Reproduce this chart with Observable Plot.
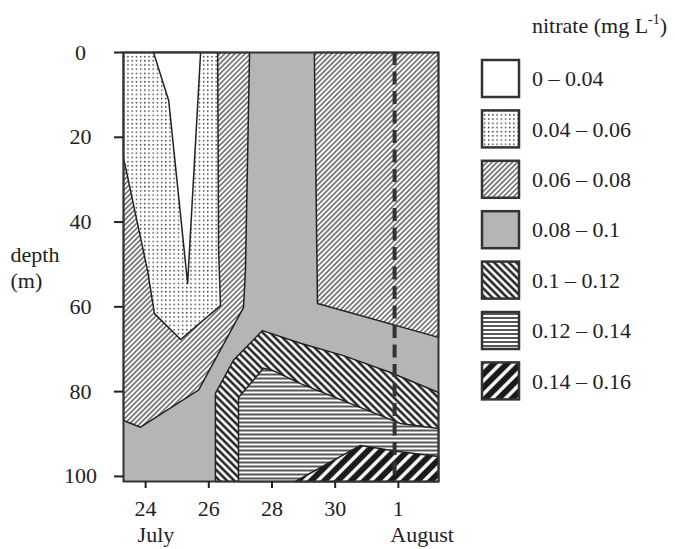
<!DOCTYPE html>
<html>
<head>
<meta charset="utf-8">
<script src="https://cdn.jsdelivr.net/npm/d3@7"></script>
<script src="https://cdn.jsdelivr.net/npm/@observablehq/plot@0.6"></script>
<style>
  html, body { margin: 0; padding: 0; background: #fff; }
  #wrap { position: relative; width: 675px; height: 549px; font-family: "Liberation Serif", "Times New Roman", serif; }
  #legend { position: absolute; left: 0; top: 0; }
  svg text { font-family: "Liberation Serif", "Times New Roman", serif; }
</style>
</head>
<body>
<svg width="0" height="0" style="position:absolute">
  <defs>
    <pattern id="p-stip" patternUnits="userSpaceOnUse" width="4.2" height="4.2">
      <rect width="4.2" height="4.2" fill="#fff"/>
      <circle cx="1.5" cy="1.5" r="0.8" fill="#333"/>
    </pattern>
    <pattern id="p-hatch" patternUnits="userSpaceOnUse" width="3.6" height="3.6" patternTransform="rotate(45)">
      <rect width="3.6" height="3.6" fill="#fff"/>
      <line x1="1.8" y1="-1" x2="1.8" y2="5" stroke="#555" stroke-width="1.4"/>
    </pattern>
    <pattern id="p-gray" patternUnits="userSpaceOnUse" width="4" height="4">
      <rect width="4" height="4" fill="#b5b5b5"/>
    </pattern>
    <pattern id="p-back" patternUnits="userSpaceOnUse" width="5.2" height="5.2" patternTransform="rotate(-45)">
      <rect width="5.2" height="5.2" fill="#fff"/>
      <line x1="2.6" y1="-1" x2="2.6" y2="7" stroke="#1e1e1e" stroke-width="2.5"/>
    </pattern>
    <pattern id="p-horiz" patternUnits="userSpaceOnUse" width="4" height="4">
      <rect width="4" height="4" fill="#fff"/>
      <line x1="-1" y1="2" x2="5" y2="2" stroke="#1e1e1e" stroke-width="1.5"/>
    </pattern>
    <pattern id="p-thick" patternUnits="userSpaceOnUse" width="9.4" height="9.4" patternTransform="rotate(45)">
      <rect width="9.4" height="9.4" fill="#fff"/>
      <line x1="4.7" y1="-1" x2="4.7" y2="11" stroke="#1a1a1a" stroke-width="6"/>
    </pattern>
  </defs>
</svg>
<div id="wrap">
  <div id="chart"></div>
  <svg id="legend" width="675" height="549"></svg>
</div>
<script>
// ---- data ----
// legend classes (nitrate, mg L-1)
const classLabels = ["0 \u2013 0.04", "0.04 \u2013 0.06", "0.06 \u2013 0.08", "0.08 \u2013 0.1", "0.1 \u2013 0.12", "0.12 \u2013 0.14", "0.14 \u2013 0.16"];
const classFills = ["#fff", "url(#p-stip)", "url(#p-hatch)", "url(#p-gray)", "url(#p-back)", "url(#p-horiz)", "url(#p-thick)"];

// axis ticks: day number (32 = 1 August), depth (m)
const dayTicks = [24, 26, 28, 30, 32];
const dayTickLabels = ["24", "26", "28", "30", "1"];
const monthLabels = [{day: 24, text: "July"}, {day: 32, text: "August"}];
const depthTicks = [0, 20, 40, 60, 80, 100];
const dayDomain = [23.3, 33.27];
const depthDomain = [0, 101.2];
const sampleDay = 31.88; // dashed marker line

// contour polygons: [day, depth]
const poly0608left = [[23.3,0],[27.29,0],[27.16,51.4],[27.10,60.1],[25.68,79.6],[23.84,88.4],[23.3,86.8]];
const poly0406 = [[23.3,0],[26.28,0],[26.31,46.7],[26.37,59.7],[25.11,67.7],[24.28,61.6],[24.06,51.4],[23.3,24.8]];
const poly0004 = [[24.25,0],[25.74,0],[25.33,54.5],[24.73,11.3]];
const poly0608right = [[29.34,0],[33.27,0],[33.27,67.2],[29.44,59.2]];
const poly1012 = [[26.21,101.2],[26.21,80.4],[26.78,72.6],[27.70,65.6],[28.90,68.6],[30.26,71.5],[31.75,75.5],[33.27,80.2],[33.27,101.2]];
const poly1214 = [[26.94,101.2],[26.94,81.4],[27.73,74.5],[28.02,75.0],[28.90,78.1],[32.06,87.5],[33.27,88.7],[33.27,101.2]];
const poly1416 = [[28.74,101.2],[30.80,92.7],[32.0,94.1],[33.27,95.3],[33.27,101.2]];

const polys = [
  {pts: poly0608left, cls: 2},
  {pts: poly0406, cls: 1},
  {pts: poly0004, cls: 0},
  {pts: poly0608right, cls: 2},
  {pts: poly1012, cls: 4},
  {pts: poly1214, cls: 5},
  {pts: poly1416, cls: 6}
];

const FONT = '"Liberation Serif", "Times New Roman", serif';
const INK = "#222";

const polyMarks = polys.map(p => Plot.line(p.pts, {
  x: d => d[0], y: d => d[1], curve: "linear-closed",
  fill: classFills[p.cls], stroke: INK, strokeWidth: 1.5
}));

const chart = Plot.plot({
  width: 675,
  height: 549,
  marginLeft: 123,
  marginRight: 237,
  marginTop: 52,
  marginBottom: 68,
  style: {fontFamily: FONT, fontSize: "22px", color: INK, background: "#fff"},
  x: {domain: dayDomain},
  y: {domain: depthDomain, reverse: true},
  marks: [
    Plot.frame({fill: "#b5b5b5", stroke: null}),
    ...polyMarks,
    Plot.ruleX([sampleDay], {y1: 0, y2: depthDomain[1], stroke: "#333", strokeWidth: 4, strokeDasharray: "13,6.5"}),
    Plot.frame({stroke: "#333", strokeWidth: 2}),
    Plot.axisY({ticks: depthTicks, tickSize: 9, tickPadding: 34, textAnchor: "middle", fontSize: 22, strokeWidth: 2, label: null}),
    Plot.axisX({ticks: dayTicks, tickFormat: d => dayTickLabels[dayTicks.indexOf(d)], tickSize: 7, tickPadding: 12, fontSize: 22, strokeWidth: 2, label: null}),
    Plot.text(monthLabels, {x: "day", text: "text", frameAnchor: "bottom", lineAnchor: "middle", textAnchor: "start", dx: -8, dy: 53, fontSize: 22}),
    Plot.text(["depth\n(m)"], {text: d => d, frameAnchor: "left", lineAnchor: "middle", textAnchor: "start", dx: -113, fontSize: 22, lineHeight: 1.15})
  ]
});
document.getElementById("chart").appendChild(chart);

// ---- legend ----
const lg = d3.select("#legend");
const title = lg.append("text").attr("x", 532).attr("y", 33)
  .attr("font-size", 22).attr("fill", INK);
title.append("tspan").text("nitrate (mg L");
title.append("tspan").attr("font-size", 14).attr("dy", -9).text("-1");
title.append("tspan").attr("dy", 9).text(")");

classLabels.forEach((lab, i) => {
  const top = 60 + i * 50.4;
  lg.append("rect").attr("x", 482).attr("y", top).attr("width", 37).attr("height", 37)
    .attr("fill", classFills[i]).attr("stroke", "#333").attr("stroke-width", 2.5);
  lg.append("text").attr("x", 532).attr("y", top + 18.5).attr("dy", "0.35em")
    .attr("font-size", 22).attr("fill", INK).text(lab);
});
</script>
</body>
</html>
